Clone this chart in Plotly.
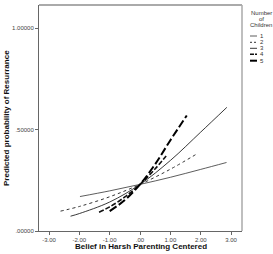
import plotly.graph_objects as go

# Values
series_names = ["1", "2", "3", "4", "5"]
x1 = [-1.98, -1.0, 0.0, 1.0, 2.0, 2.85]
y1 = [0.170, 0.198, 0.230, 0.265, 0.304, 0.338]
x2 = [-2.62, -2.0, -1.0, 0.0, 1.0, 1.89]
y2 = [0.098, 0.121, 0.169, 0.230, 0.305, 0.382]
x3 = [-2.29, -2.0, -1.0, 0.0, 1.0, 2.0, 2.86]
y3 = [0.073, 0.086, 0.143, 0.230, 0.348, 0.488, 0.610]
x4 = [-1.35, -1.0, -0.5, 0.0, 0.5, 0.86]
y4 = [0.093, 0.119, 0.168, 0.230, 0.307, 0.370]
x5 = [-1.0, -0.5, 0.0, 0.5, 1.0, 1.54]
y5 = [0.098, 0.153, 0.230, 0.330, 0.448, 0.570]

x_tickvals = [-3, -2, -1, 0, 1, 2, 3]
x_ticktext = ["-3.00", "-2.00", "-1.00", ".00", "1.00", "2.00", "3.00"]
y_tickvals = [0, 0.5, 1.0]
y_ticktext = [".00000", ".50000", "1.00000"]

xs = [x1, x2, x3, x4, x5]
ys = [y1, y2, y3, y4, y5]
styles = [
    dict(width=0.8, dash="solid", color="#333333"),
    dict(width=1.0, dash="3px,3px", color="#333333"),
    dict(width=0.9, dash="solid", color="#222222"),
    dict(width=1.6, dash="5px,2px", color="#111111"),
    dict(width=2.0, dash="8px,3px", color="#000000"),
]
legend_dash = ["solid", "2px,2px", "solid", "4px,1px", "solid"]

fig = go.Figure()
for name, xv, yv, st in zip(series_names, xs, ys, styles):
    fig.add_trace(go.Scatter(x=xv, y=yv, mode="lines", name=name,
                             line=dict(shape="spline", **st), showlegend=False))

L, R, T, B = 39, 31, 5, 23
W, H = 273, 254
pw, ph = W - L - R, H - T - B

def px(xp):
    return (xp - L) / pw

def py(yp):
    return (H - B - yp) / ph

fig.update_layout(
    width=W, height=H,
    margin=dict(l=L, r=R, t=T, b=B),
    plot_bgcolor="white", paper_bgcolor="white",
    font=dict(family="Liberation Sans, Arial, sans-serif", size=6, color="#333333"),
    xaxis=dict(range=[-3.33, 3.36], tickvals=x_tickvals, ticktext=x_ticktext,
               showgrid=False, zeroline=False, showline=True, linecolor="#666666",
               linewidth=1, ticks="outside", ticklen=3, tickcolor="#666666",
               tickfont=dict(size=6, color="#444444")),
    yaxis=dict(range=[0, 1.115], tickvals=y_tickvals, ticktext=y_ticktext,
               showgrid=False, zeroline=False, showline=True, linecolor="#666666",
               linewidth=1, ticks="outside", ticklen=3, tickcolor="#666666",
               tickfont=dict(size=6, color="#444444")),
)

# frame (top/right lighter)
fig.add_shape(type="line", xref="paper", yref="paper", x0=0, x1=1, y0=1, y1=1,
              line=dict(color="#aaaaaa", width=2))
fig.add_shape(type="line", xref="paper", yref="paper", x0=1, x1=1, y0=0, y1=1,
              line=dict(color="#aaaaaa", width=1.5))

# axis titles
fig.add_annotation(text="<b>Belief in Harsh Parenting Centered</b>", xref="paper", yref="paper",
                   x=px(141), y=py(246), xanchor="center", yanchor="middle",
                   showarrow=False, font=dict(size=8, color="#111111"))
fig.add_annotation(text="<b>Predicted probability of Resurrance</b>", xref="paper", yref="paper",
                   x=px(6), y=py(118), xanchor="center", yanchor="middle",
                   showarrow=False, textangle=-90,
                   font=dict(size=8, color="#111111"))

# manual legend
for txt, yy in [("Number", 13.3), ("of", 19), ("Children", 25.3)]:
    fig.add_annotation(text=txt, xref="paper", yref="paper", x=px(261), y=py(yy),
                       xanchor="center", yanchor="middle",
                       showarrow=False, font=dict(size=6, color="#333333"))
leg_y = [36, 42.3, 48.3, 54.3, 60.7]
for name, st, ld, yy in zip(series_names, styles, legend_dash, leg_y):
    fig.add_shape(type="line", xref="paper", yref="paper", x0=px(250), x1=px(257),
                  y0=py(yy), y1=py(yy),
                  line=dict(color=st["color"], width=st["width"], dash=ld))
    fig.add_annotation(text=name, xref="paper", yref="paper", x=px(258), y=py(yy),
                       xanchor="left", yanchor="middle",
                       showarrow=False, font=dict(size=6, color="#333333"))

fig.write_html("out.html")
